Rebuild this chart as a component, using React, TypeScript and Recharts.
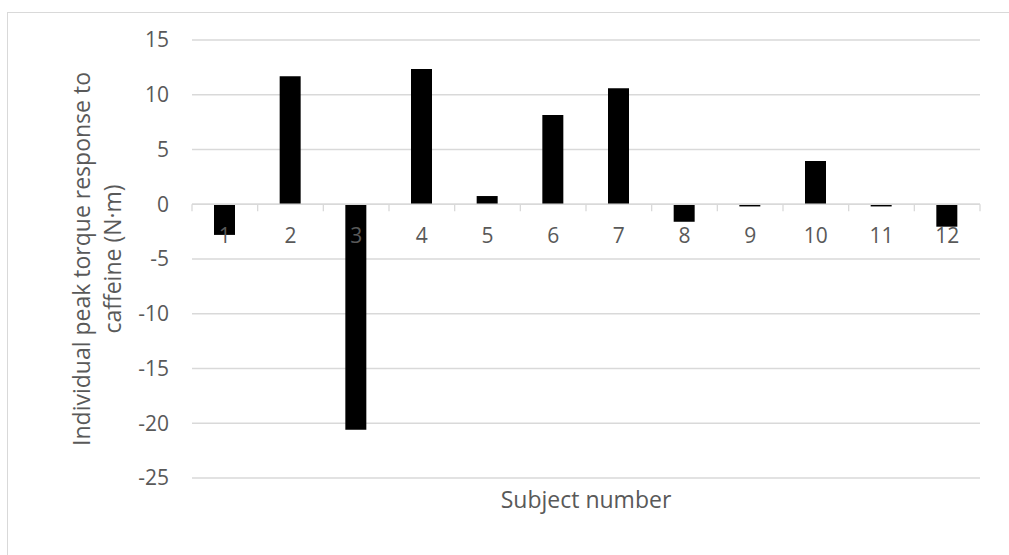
import { BarChart, Bar, XAxis, YAxis, CartesianGrid, ReferenceLine } from 'recharts'

const subjects = ['1', '2', '3', '4', '5', '6', '7', '8', '9', '10', '11', '12']
const responses = [-2.8, 11.7, -20.6, 12.35, 0.75, 8.15, 10.6, -1.6, -0.2, 3.95, -0.2, -2.05]
const yTicks = [-25, -20, -15, -10, -5, 0, 5, 10, 15]

const data = subjects.map((s, i) => ({ subject: s, response: responses[i] }))

const CHART_W = 1001
const CHART_H = 542
const MARGIN = { top: 27, right: 29, bottom: 0, left: 0 }
const Y_AXIS_W = 184
const X_AXIS_H = 77
const PLOT_W = CHART_W - MARGIN.left - MARGIN.right - Y_AXIS_W
const PLOT_H = CHART_H - MARGIN.top - MARGIN.bottom - X_AXIS_H
const BAND = PLOT_W / subjects.length
const ZERO_Y = MARGIN.top + (PLOT_H * 15) / 40

const TEXT = '#595959'
const GRID = '#d9d9d9'
const FONT = '"Open Sans", sans-serif'

function SubjectTick(props: any) {
  const { x, index, payload } = props
  const last = index === subjects.length - 1
  return (
    <g>
      <line x1={x - BAND / 2} x2={x - BAND / 2} y1={ZERO_Y} y2={ZERO_Y + 7} stroke={GRID} strokeWidth={1.3} />
      {last && (
        <line x1={x + BAND / 2} x2={x + BAND / 2} y1={ZERO_Y} y2={ZERO_Y + 7} stroke={GRID} strokeWidth={1.3} />
      )}
      <text x={x} y={ZERO_Y + 38.5} textAnchor="middle" fill={TEXT} fontSize={21} fontFamily={FONT}>
        {payload.value}
      </text>
    </g>
  )
}

function XTitle(props: any) {
  const vb = props.viewBox || {}
  return (
    <text x={vb.x + vb.width / 2} y={495} textAnchor="middle" fill={TEXT} fontSize={23} fontFamily={FONT}>
      Subject number
    </text>
  )
}

function YTitle() {
  const cy = MARGIN.top + PLOT_H / 2
  return (
    <g fill={TEXT} fontSize={23} fontFamily={FONT}>
      <text x={82} y={cy} textAnchor="middle" transform={`rotate(-90, 82, ${cy})`}>
        Individual peak torque response to
      </text>
      <text x={113} y={cy} textAnchor="middle" transform={`rotate(-90, 113, ${cy})`}>
        caffeine (N·m)
      </text>
    </g>
  )
}

export default function App() {
  return (
    <div
      style={{
        position: 'absolute',
        left: 7,
        top: 12,
        width: CHART_W + 20,
        height: CHART_H + 20,
        borderTop: `1px solid ${GRID}`,
        borderLeft: `1px solid ${GRID}`,
        background: '#fff',
        fontFamily: FONT,
      }}
    >
      <BarChart width={CHART_W} height={CHART_H} data={data} margin={MARGIN}>
        <CartesianGrid vertical={false} stroke={GRID} strokeWidth={1.3} />
        <YAxis
          type="number"
          domain={[-25, 15]}
          ticks={yTicks}
          width={Y_AXIS_W}
          axisLine={false}
          tickLine={false}
          tickSize={0}
          tickMargin={23}
          tick={{ fill: TEXT, fontSize: 21, fontFamily: FONT }}
          label={{ content: () => <YTitle /> }}
        />
        <ReferenceLine y={0} stroke={GRID} strokeWidth={1.3} />
        <Bar dataKey="response" fill="#000" barSize={21} isAnimationActive={false} />
        <XAxis
          dataKey="subject"
          height={X_AXIS_H}
          interval={0}
          axisLine={false}
          tickLine={false}
          tick={(p: any) => <SubjectTick {...p} />}
          label={{ content: (p: any) => <XTitle {...p} /> }}
        />
      </BarChart>
    </div>
  )
}
